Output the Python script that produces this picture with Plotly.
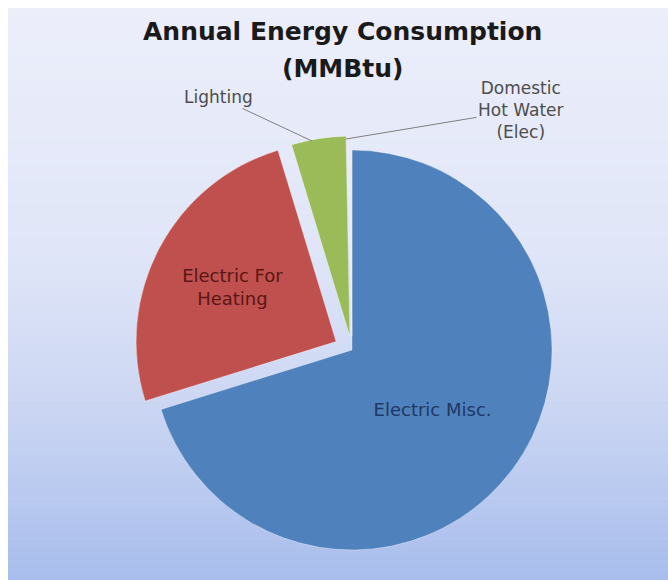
import plotly.graph_objects as go

# ---- data ----
labels = ["Electric Misc.", "Electric For Heating", "Lighting", "Domestic Hot Water (Elec)"]
values = [70.2, 25.1, 4.4, 0.3]
slice_text = ["Electric Misc.", "Electric For<br>Heating", "", ""]
title_lines = ["Annual Energy Consumption", "(MMBtu)"]

# ---- styles ----
colors = ["#4f81bd", "#c0504d", "#9bbb59", "#e4e9f8"]
text_colors = ["#1f3864", "#5a1614", "#333333", "#333333"]
pulls = [0, 0.09, 0.07, 0.07]

W, H = 668, 580
fig = go.Figure()
fig.add_trace(go.Pie(
    labels=labels, values=values, text=slice_text,
    textinfo="text", textposition="inside", insidetextorientation="horizontal",
    insidetextfont=dict(family="DejaVu Sans", size=18, color=text_colors),
    sort=False, direction="clockwise", rotation=0, pull=pulls,
    marker=dict(colors=colors, line=dict(color="rgba(255,255,255,0.35)", width=1)),
    domain=dict(x=[0.2006, 0.8533], y=[0.0207, 0.7724]),
    showlegend=False, hoverinfo="label+value",
))

# background gradient panel (style only)
stops = [(8, (236, 238, 250)), (250, (224, 230, 248)), (400, (204, 215, 243)), (580, (168, 189, 236))]
shapes = []
n = 70
for i in range(n):
    y0 = 8 + (580 - 8) * i / n
    y1 = 8 + (580 - 8) * (i + 1) / n
    ym = (y0 + y1) / 2
    for (a, ca), (b, cb) in zip(stops[:-1], stops[1:]):
        if a <= ym <= b:
            t = (ym - a) / (b - a)
            c = tuple(int(round(ca[k] + (cb[k] - ca[k]) * t)) for k in range(3))
            break
    shapes.append(dict(type="rect", xref="paper", yref="paper", layer="below",
                       x0=8 / W, x1=1, y0=1 - y1 / H - 0.001, y1=1 - y0 / H,
                       fillcolor="rgb(%d,%d,%d)" % c, line=dict(width=0)))

annotations = [
    dict(text="<b>" + title_lines[0] + "</b>", x=342 / W, y=1 - 31 / H, xref="paper", yref="paper",
         showarrow=False, font=dict(family="DejaVu Sans", size=25, color="#1a1a1a"),
         xanchor="center", yanchor="middle"),
    dict(text="<b>" + title_lines[1] + "</b>", x=342 / W, y=1 - 68 / H, xref="paper", yref="paper",
         showarrow=False, font=dict(family="DejaVu Sans", size=25, color="#1a1a1a"),
         xanchor="center", yanchor="middle"),
    dict(text=labels[2], x=312 / W, y=1 - 141 / H, xref="paper", yref="paper",
         showarrow=True, ax=-94, ay=-44, arrowhead=0, arrowwidth=1, arrowcolor="#808080",
         font=dict(family="DejaVu Sans", size=17, color="#4d4d4d")),
    dict(text="Domestic<br>Hot Water<br>(Elec)", x=346 / W, y=1 - 139 / H, xref="paper", yref="paper",
         showarrow=True, ax=175, ay=-29, arrowhead=0, arrowwidth=1, arrowcolor="#808080",
         font=dict(family="DejaVu Sans", size=17, color="#4d4d4d")),
]

fig.update_layout(
    width=W, height=H, margin=dict(l=0, r=0, t=0, b=0),
    paper_bgcolor="white", plot_bgcolor="white",
    shapes=shapes, annotations=annotations,
)
fig.write_html("out.html")
